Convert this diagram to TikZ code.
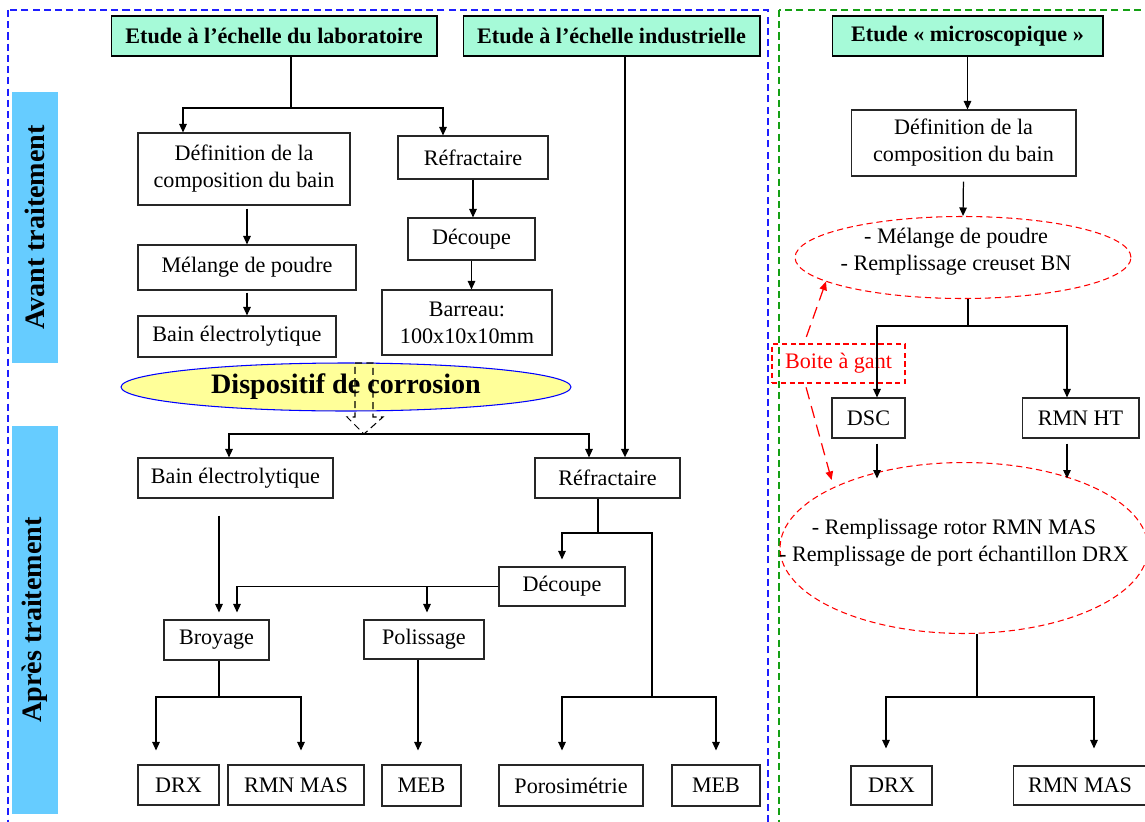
\documentclass[tikz,border=0pt]{standalone}
\usepackage{fontspec}
\setmainfont{Liberation Serif}
\usepackage{tikz}
\usetikzlibrary{positioning, arrows.meta, shapes.geometric, shadows}
\definecolor{TitleMint}{RGB}{166,250,216}
\definecolor{PhaseBlue}{RGB}{102,204,255}
\definecolor{CellYellow}{RGB}{255,255,153}
\definecolor{FrameBlue}{RGB}{30,30,255}
\definecolor{FrameGreen}{RGB}{20,160,20}
\tikzset{
  box/.style={draw=black!85, line width=0.6pt, fill=white, inner sep=1pt, align=center},
  titlebox/.style={box, draw=black, fill=TitleMint, font=\fontsize{12.6}{15.3}\selectfont\bfseries,
    minimum height=0.8cm,
    drop shadow={shadow xshift=0.03cm, shadow yshift=-0.03cm, fill=black!35, opacity=1}},
  phasebar/.style={fill=PhaseBlue, rotate=90, minimum height=0.92cm, inner sep=0pt,
    font=\fontsize{16}{19}\selectfont\bfseries},
  arr/.style={-{Triangle[length=1.7mm, width=1.5mm]}, line width=0.7pt},
  link/.style={line width=0.7pt},
  gbox/.style={ellipse, draw=red, dash pattern=on 3.5pt off 2.2pt, line width=0.6pt, inner sep=0pt},
  redarr/.style={-{Triangle[length=1.7mm, width=1.5mm]}, red, line width=0.7pt, dash pattern=on 7pt off 4pt},
  zoneframe/.style={line width=0.6pt, dash pattern=on 4pt off 2.4pt},
}

\begin{document}
\begin{tikzpicture}[x=0.02cm, y=-0.02cm, font=\fontsize{12.6}{15.3}\selectfont]
    \useasboundingbox (0,0) rectangle (1145,821);
    % zones
    \draw[zoneframe, FrameBlue] (8,10) rectangle (768,840);
    \draw[zoneframe, FrameGreen] (779,10) rectangle (1170,840);
    \node[phasebar, minimum width=5.42cm] (avant) at (35,227.5) {Avant traitement};
    \node[phasebar, minimum width=7.76cm] (apres) at (35,620) {Après traitement};
    % titres
    \node[titlebox, minimum width=6.52cm] (tlab) at (274,36) {Etude à l’échelle du laboratoire};
    \node[titlebox, minimum width=5.94cm] (tind) at (611.5,36) {Etude à l’échelle industrielle};
    \node[titlebox, minimum width=5.42cm] (tmic) at (967.5,36) {Etude « microscopique »};
    % avant traitement
    \node[box, minimum width=4.24cm, minimum height=1.44cm] (defA) at (244,169) {Définition de la\\composition du bain};
    \node[box, minimum width=4.36cm, minimum height=0.9cm] (melA) at (247,267.5) {Mélange de poudre};
    \node[box, minimum width=3.96cm, minimum height=0.82cm] (bainA) at (237,336.5) {Bain électrolytique};
    \node[box, minimum width=3cm, minimum height=0.86cm] (refA) at (473,157.5) {Réfractaire};
    \node[box, minimum width=2.54cm, minimum height=0.84cm] (decA) at (471.5,239) {Découpe};
    \node[box, minimum width=3.4cm, minimum height=1.3cm] (barA) at (467,322.5) {Barreau:\\100x10x10mm};
    \coordinate (jlab) at (291,108);
    \draw[link] (tlab.south -| jlab) -- (jlab);
    \draw[arr] (jlab) -| ([xshift=-1.22cm]defA.north);
    \draw[arr] (jlab) -| ([xshift=-0.6cm]refA.north);
    \draw[arr, shorten <=0.06cm] (defA.south -| melA.north) -- (melA.north);
    \draw[arr, shorten <=0.04cm] (melA.south) -- (melA.south |- bainA.north);
    \draw[arr] (refA.south) -- (refA.south |- decA.north);
    \draw[arr] (decA.south) -- (decA.south |- barA.north);
    % dispositif
    \node[ellipse, draw=blue, fill=CellYellow, line width=0.6pt, minimum width=9cm, minimum height=0.96cm,
      inner sep=0pt, font=\fontsize{16}{19}\selectfont\bfseries] (disp) at (346,387) {Dispositif de corrosion};
    \draw[line width=0.6pt, dash pattern=on 4pt off 2.5pt] (355,363) -- (373,363) -- (373,417) -- (383,417)
      -- (364,434) -- (347,417) -- (355,417) -- cycle;
    % apres traitement
    \node[box, minimum width=3.9cm, minimum height=0.8cm] (bainB) at (235.5,478) {Bain électrolytique};
    \node[box, minimum width=2.9cm, minimum height=0.8cm] (refB) at (607.5,478) {Réfractaire};
    \node[box, minimum width=2.52cm, minimum height=0.78cm] (decB) at (562,586.5) {Découpe};
    \node[box, minimum width=2.1cm, minimum height=0.8cm] (broy) at (216.5,640) {Broyage};
    \node[box, minimum width=2.4cm, minimum height=0.78cm] (pol) at (424,639.5) {Polissage};
    \node[box, minimum width=1.62cm, minimum height=0.8cm] (drxA) at (178.5,785) {DRX};
    \node[box, minimum width=2.72cm, minimum height=0.8cm] (rmnA) at (296,785) {RMN MAS};
    \node[box, minimum width=1.58cm, minimum height=0.82cm] (mebA) at (421.5,785.5) {MEB};
    \node[box, minimum width=2.88cm, minimum height=0.82cm] (poro) at (571,785.5) {Porosimétrie};
    \node[box, minimum width=1.76cm, minimum height=0.82cm] (mebB) at (716,785.5) {MEB};
    \coordinate (jdisp) at (364,434);
    \draw[arr] (jdisp) -| ([xshift=-0.13cm]bainB.north);
    \draw[arr] (jdisp) -| ([xshift=-0.37cm]refB.north);
    \draw[arr, line width=1.3pt] ([xshift=0.27cm]tind.south) -- ([xshift=0.27cm]tind.south |- refB.north);
    \draw[arr, shorten <=0.34cm, shorten >=0.14cm] ([xshift=0.05cm]broy.north |- bainB.south) -- ([xshift=0.05cm]broy.north);
    \coordinate (jdec) at (237,587);
    \draw[arr, shorten >=0.14cm] (decB.west) -| (jdec |- broy.north);
    \draw[arr, shorten >=0.14cm] ([xshift=0.06cm]pol.north |- decB.west) -- ([xshift=0.06cm]pol.north);
    \coordinate (jref) at (598,533);
    \draw[link] (refB.south -| jref) -- (jref);
    \draw[arr, shorten >=0.14cm] (jref) -| (decB.north);
    \coordinate (jind) at (652,697);
    \draw[link] (jref) -| (jind);
    \draw[arr, shorten >=0.28cm] (jind) -| ([xshift=-0.18cm]poro.north);
    \draw[arr, shorten >=0.28cm] (jind) -| (mebB.north);
    \coordinate (jbroy) at (219,697);
    \draw[link] (broy.south -| jbroy) -- (jbroy);
    \draw[arr, shorten >=0.28cm] (jbroy) -| ([xshift=-0.45cm]drxA.north);
    \draw[arr, shorten >=0.28cm] (jbroy) -| ([xshift=0.1cm]rmnA.north);
    \draw[arr, shorten >=0.28cm] ([xshift=-0.12cm]pol.south) -- ([xshift=-0.12cm]pol.south |- mebA.north);
    % etude microscopique
    \node[box, minimum width=4.5cm, minimum height=1.32cm] (defC) at (963.5,143) {Définition de la\\composition du bain};
    \node[gbox, minimum width=6.72cm, minimum height=1.64cm] (melC) at (963,257.5) {};
    \node[align=center] (melCtxt) at ([xshift=-0.14cm, yshift=0.12cm]melC.center) {- Mélange de poudre\\- Remplissage creuset BN};
    \node[box, minimum width=1.46cm, minimum height=0.8cm] (dsc) at (868.5,418) {DSC};
    \node[box, minimum width=2.34cm, minimum height=0.8cm] (rmnht) at (1080.5,418) {RMN HT};
    \node[gbox, minimum width=7.36cm, minimum height=3.42cm] (el2) at (964,548) {};
    \node[align=center] (el2txt) at ([xshift=-0.2cm, yshift=0.1cm]el2.center) {- Remplissage rotor RMN MAS\\- Remplissage de port échantillon DRX};
    \node[box, minimum width=1.62cm, minimum height=0.78cm] (drxC) at (891.5,785.5) {DRX};
    \node[box, minimum width=2.68cm, minimum height=0.78cm] (rmnC) at (1080,785.5) {RMN MAS};
    \node[draw=red, dash pattern=on 3pt off 2pt, line width=0.6pt, text=red, inner sep=1pt,
      minimum width=2.66cm, minimum height=0.78cm] (gant) at (838.5,363.5) {Boite à gant};
    \draw[arr] (tmic.south) -- (tmic.south |- defC.north);
    \draw[arr, shorten <=0.1cm] (defC.south) -- (melC.north);
    \coordinate (jmel) at (968,326);
    \draw[link] (melC.south -| jmel) -- (jmel);
    \draw[arr] (jmel) -| ([xshift=0.17cm]dsc.north);
    \draw[arr] (jmel) -| ([xshift=-0.27cm]rmnht.north);
    \draw[arr, shorten <=0.1cm] ([xshift=0.17cm]dsc.south) -- ++(0,40);
    \draw[arr, shorten <=0.1cm] ([xshift=-0.27cm]rmnht.south) -- ++(0,40);
    \coordinate (jel) at (977,697);
    \draw[link] (el2.south -| jel) -- (jel);
    \draw[arr, shorten >=0.34cm] (jel) -| ([xshift=-0.11cm]drxC.north);
    \draw[arr, shorten >=0.34cm] (jel) -| ([xshift=0.28cm]rmnC.north);
    \draw[redarr, shorten <=0.14cm] ([xshift=-0.69cm]gant.north) -- (melC.190);
    \draw[redarr, shorten <=0.08cm, shorten >=0.15cm] ([xshift=-0.67cm]gant.south) -- (el2.155);
\end{tikzpicture}
\end{document}
